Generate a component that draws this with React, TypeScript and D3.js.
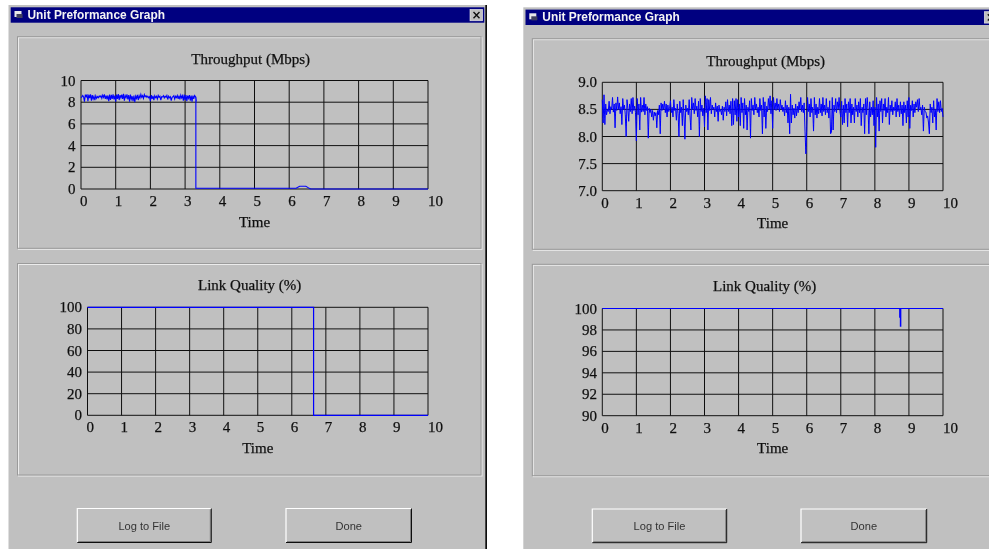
import React from "react";
import * as d3 from "d3";

const xTicks = [0, 1, 2, 3, 4, 5, 6, 7, 8, 9, 10];
const throughputWideTicks = [0, 2, 4, 6, 8, 10];
const qualityWideTicks = [0, 20, 40, 60, 80, 100];
const throughputZoomTicks = [7, 7.5, 8, 8.5, 9];
const qualityZoomTicks = [90, 92, 94, 96, 98, 100];

const SAMPLE_STEP = 0.025;

const leftThroughputSamples = [
  8.42,8.5,8.62,8.48,8.05,8.7,8.5,8.72,8.1,8.7,8.38,8.72,8.15,8.65,8.3,8.55,8.2,8.58,8.35,8.52,8.42,8.58,8.48,8.6,8.35,8.65,8.45,8.72,8.3,8.6,8.25,8.62,8.1,8.7,8.2,8.68,8.3,8.72,8.25,8.6,
  8.05,8.7,8.3,8.75,8.2,8.65,8.4,8.7,8.3,8.78,8.15,8.6,8.42,8.72,8.25,8.65,8.05,8.7,8.3,8.55,8.1,8.62,8.0,8.55,8.35,8.68,8.2,8.6,8.4,8.72,8.45,8.6,8.35,8.7,8.5,8.6,8.45,8.55,8.4,8.5,
  8.1,8.65,8.3,8.58,8.2,8.6,8.42,8.55,8.3,8.62,8.45,8.55,8.2,8.5,8.48,8.6,8.4,8.55,8.45,8.62,8.25,8.55,8.4,8.5,8.15,8.45,8.5,8.6,8.3,8.55,8.42,8.62,8.3,8.6,8.25,8.65,8.4,8.6,8.15,8.7,
  8.2,8.65,8.1,8.6,8.35,8.65,8.15,8.62,8.05,8.6,8.3,8.62,8.5,8.05,
];
const leftThroughputTailTimes = [3.31, 3.31, 6.2, 6.3, 6.48, 6.58, 6.62, 10];
const leftThroughputTailValues = [8.5, 0.07, 0.07, 0.25, 0.25, 0.06, 0, 0];

const leftQualityTimes = [0, 6.64, 6.64, 10];
const leftQualityValues = [100, 100, 0, 0];

const rightThroughputSamples = [
  8.68,8.25,8.77,8.22,8.6,8.4,8.5,8.46,8.65,8.42,8.55,8.5,8.72,8.45,8.6,8.16,8.62,8.48,8.73,8.5,8.62,8.42,8.55,8.22,8.7,8.5,8.58,8.4,8.0,8.68,8.52,8.28,8.6,8.46,8.7,8.42,8.72,8.48,8.56,8.44,
  7.92,8.7,8.4,8.6,8.12,8.72,8.45,8.58,8.46,8.72,8.4,8.6,8.48,8.55,7.97,8.52,8.44,8.5,8.36,8.48,8.3,8.45,8.38,8.44,8.16,8.48,8.4,8.58,8.05,8.62,8.48,8.6,8.5,8.65,8.44,8.6,8.36,8.58,8.46,8.52,
  8.66,8.44,8.54,8.36,8.68,8.48,8.52,8.3,8.6,8.42,8.0,8.65,8.44,8.54,8.2,8.68,8.36,7.95,8.58,8.46,8.52,8.4,8.68,8.38,8.12,8.72,8.5,8.62,8.42,8.7,8.48,8.56,8.36,8.65,8.0,8.7,8.46,8.58,8.38,8.52,
  8.18,8.75,8.44,8.7,8.12,8.68,8.48,8.72,8.42,8.58,8.5,8.54,8.36,8.62,8.46,8.56,8.28,8.58,8.46,8.5,8.4,8.56,8.3,8.54,8.46,8.64,8.38,8.68,8.46,8.58,8.42,8.65,8.2,8.7,8.22,8.66,8.4,8.7,8.28,8.68,
  8.36,8.6,8.2,8.72,8.44,8.62,8.15,8.7,8.4,8.58,8.12,8.54,8.46,8.66,7.97,8.7,8.48,8.58,8.4,8.72,8.5,8.6,8.44,8.54,8.36,8.7,8.48,8.58,8.05,8.72,8.36,8.64,8.15,8.56,8.46,8.7,8.5,8.75,8.42,8.66,
  8.15,8.72,8.5,8.62,8.48,8.7,8.5,8.6,8.46,8.68,8.5,8.58,8.46,8.54,8.38,8.66,8.44,8.58,8.25,8.54,8.05,8.78,8.25,8.58,8.4,8.52,8.34,8.6,8.38,8.56,8.44,8.64,8.5,8.72,8.46,8.58,8.44,8.62,8.1,7.68,
  8.1,8.72,8.46,8.6,8.36,8.7,8.44,8.54,8.1,8.72,8.4,8.6,8.34,8.54,8.42,8.7,8.44,8.6,8.38,8.72,8.46,8.58,8.4,8.7,8.44,8.54,8.34,8.66,8.05,8.08,8.72,8.12,8.58,8.46,8.7,8.44,8.64,8.5,8.72,8.46,
  8.36,8.65,8.22,8.58,8.25,8.7,8.44,8.6,8.18,8.64,8.44,8.7,8.25,8.6,8.4,8.54,8.25,8.7,8.46,8.58,8.36,8.64,8.44,8.7,8.2,8.54,8.44,8.6,8.05,8.7,8.4,8.72,8.5,8.05,8.64,8.36,8.54,8.4,8.66,8.2,
  8.54,7.8,8.72,8.36,8.6,8.1,8.66,8.46,8.7,8.25,8.6,8.48,8.7,8.36,8.54,8.44,8.72,8.22,8.58,8.46,8.66,8.4,8.54,8.48,8.64,8.36,8.7,8.46,8.58,8.36,8.64,8.42,8.58,8.2,8.64,8.44,8.58,8.25,8.66,8.36,
  8.72,8.15,8.58,8.48,8.66,8.36,8.6,8.44,8.64,8.54,8.68,8.46,8.7,8.5,8.54,8.4,8.58,8.1,8.54,8.46,8.45,8.34,8.38,8.25,8.05,8.6,8.44,8.54,8.25,8.66,8.36,8.5,8.12,8.7,8.46,8.64,8.44,8.66,8.46,8.52,8.36,
];

const rightQualityTimes = [0, 8.73, 8.73, 8.75, 8.75, 8.76, 8.76, 10];
const rightQualityValues = [100, 100, 99.2, 99.2, 98.35, 98.35, 100, 100];

type Pt = [number, number];
const zip = (xs: number[], ys: number[]): Pt[] => xs.map((x, i) => [x, ys[i]]);
const sampled = (ys: number[]): Pt[] => ys.map((y, i) => [i * SAMPLE_STEP, y]);

const serif = "'Liberation Serif', 'Times New Roman', serif";
const sans = "'Liberation Sans', Arial, sans-serif";
const FACE = "#c0c0c0";
const NAVY = "#000080";
const BLUE = "#0000ff";
const serifText = { fontFamily: serif, fontSize: 15, fill: "#111", stroke: "#111", strokeWidth: 0.25 };

function Plot({ title, ticks, yFormat, points, x0, x1, y0, y1, titleX, titleY, timeY, lineWidth = 1 }: {
  title: string; ticks: number[]; yFormat: (v: number) => string; points: Pt[];
  x0: number; x1: number; y0: number; y1: number;
  titleX: number; titleY: number; timeY: number; lineWidth?: number;
}) {
  const x = d3.scaleLinear().domain([0, 10]).range([x0, x1]);
  const y = d3.scaleLinear().domain(d3.extent(ticks) as [number, number]).range([y1, y0]);
  const path = d3.line<Pt>().x((d) => x(d[0])).y((d) => y(d[1]))(points) ?? "";
  return (
    <g>
      <text x={titleX} y={titleY} textAnchor="middle" {...serifText}>{title}</text>
      {ticks.map((t) => (
        <line key={"h" + t} x1={x0} x2={x1} y1={y(t)} y2={y(t)} stroke="#111" strokeWidth={1} />
      ))}
      {xTicks.map((t) => (
        <line key={"v" + t} x1={x(t)} x2={x(t)} y1={y0} y2={y1} stroke="#111" strokeWidth={1} />
      ))}
      <path d={path} fill="none" stroke={BLUE} strokeWidth={lineWidth} strokeLinejoin="miter" />
      {ticks.map((t) => (
        <text key={"yl" + t} x={x0 - 5.4} y={y(t) + 5} textAnchor="end" {...serifText}>{yFormat(t)}</text>
      ))}
      {xTicks.map((t) => (
        <text key={"xl" + t} x={x(t) + (t < 10 ? -1 : 0)} y={y1 + 16.8} textAnchor="start" {...serifText}>{t}</text>
      ))}
      <text x={(x0 + x1) / 2} y={timeY} textAnchor="middle" {...serifText}>Time</text>
    </g>
  );
}

function Etched({ x, y, w, h }: { x: number; y: number; w: number; h: number }) {
  return (
    <g fill="none">
      <rect x={x + 1} y={y + 1} width={w} height={h} stroke="#ececec" />
      <rect x={x} y={y} width={w} height={h} stroke="#9a9a9a" />
    </g>
  );
}

function Button({ x, y, w, h, label }: { x: number; y: number; w: number; h: number; label: string }) {
  return (
    <g>
      <rect x={x} y={y} width={w} height={h} fill={FACE} />
      <path d={`M${x} ${y + h}V${y}H${x + w}`} fill="none" stroke="#fff" strokeWidth={1.2} />
      <path d={`M${x + 1} ${y + h - 1}H${x + w - 1}V${y + 1}`} fill="none" stroke="#808080" strokeWidth={1} />
      <path d={`M${x} ${y + h}H${x + w}V${y}`} fill="none" stroke="#111" strokeWidth={1} />
      <text x={x + w / 2} y={y + h / 2 + 4} textAnchor="middle" fontFamily={sans} fontSize={11.1} fill="#333">{label}</text>
    </g>
  );
}

function Window({ x, y, right, barRight, closeX, children }: {
  x: number; y: number; right: number; barRight: number; closeX: number; children: React.ReactNode;
}) {
  return (
    <g>
      <rect x={x} y={y} width={right - x} height={549 - y} fill={FACE} />
      <rect x={x + 2.2} y={y + 2.3} width={barRight - x - 2.2} height={15.4} fill={NAVY} />
      <g>
        <rect x={x + 6} y={y + 6} width={7} height={6} fill="#e8e8e8" />
        <rect x={x + 8} y={y + 9} width={6} height={4} fill="#404060" />
      </g>
      <text x={x + 19} y={y + 14} fontFamily={sans} fontWeight="bold" fontSize={11.9} fill="#f4f4f4">Unit Preformance Graph</text>
      <rect x={closeX} y={y + 4.4} width={12.6} height={11.4} fill={FACE} stroke="#eee" strokeWidth={0.6} />
      <path d={`M${closeX + 3.5} ${y + 7}l6 6.2M${closeX + 9.5} ${y + 7}l-6 6.2`} stroke="#111" strokeWidth={1.4} />
      {children}
    </g>
  );
}

export default function App() {
  return (
    <svg width={989} height={549} viewBox="0 0 989 549" style={{ position: "absolute", left: 0, top: 0, display: "block" }}>
      <defs>
        <filter id="soft" x="0" y="0" width="100%" height="100%">
          <feGaussianBlur stdDeviation="0.35" />
        </filter>
      </defs>
      <rect width={989} height={549} fill="#fff" />
      <g filter="url(#soft)">
        <Window x={8.5} y={5} right={487} barRight={484.3} closeX={470}>
          <rect x={485.3} y={5} width={1.7} height={544} fill="#111" />
          <Etched x={17.5} y={36.7} w={463.5} h={211.6} />
          <Etched x={17.5} y={263.5} w={463.5} h={211.5} />
          <Plot title="Throughput (Mbps)" ticks={throughputWideTicks} yFormat={String}
            points={[...sampled(leftThroughputSamples), ...zip(leftThroughputTailTimes, leftThroughputTailValues)]}
            x0={81} x1={428} y0={80.5} y1={189} titleX={250.7} titleY={63.5} timeY={226.5} lineWidth={1.1} />
          <Plot title="Link Quality (%)" ticks={qualityWideTicks} yFormat={String}
            points={zip(leftQualityTimes, leftQualityValues)}
            x0={87.5} x1={428} y0={307.3} y1={415.3} titleX={249.7} titleY={290} timeY={452.5} lineWidth={1.2} />
          <Button x={77.3} y={508.5} w={134} h={34} label="Log to File" />
          <Button x={286} y={508.5} w={125.5} h={34} label="Done" />
        </Window>
        <Window x={523.3} y={7.3} right={989} barRight={992} closeX={984.3}>
          <Etched x={532.3} y={38.7} w={470} h={210.6} />
          <Etched x={532.3} y={264.3} w={470} h={211.4} />
          <Plot title="Throughput (Mbps)" ticks={throughputZoomTicks} yFormat={(v) => v.toFixed(1)}
            points={sampled(rightThroughputSamples)}
            x0={602.3} x1={943} y0={82.3} y1={190.7} titleX={765.7} titleY={65.5} timeY={227.5} />
          <Plot title="Link Quality (%)" ticks={qualityZoomTicks} yFormat={String}
            points={zip(rightQualityTimes, rightQualityValues)}
            x0={602.3} x1={943} y0={308.5} y1={415.7} titleX={764.7} titleY={291} timeY={453} lineWidth={1.2} />
          <Button x={592.3} y={509} w={134.4} h={33.7} label="Log to File" />
          <Button x={801} y={509} w={125.7} h={33.7} label="Done" />
        </Window>
      </g>
    </svg>
  );
}
